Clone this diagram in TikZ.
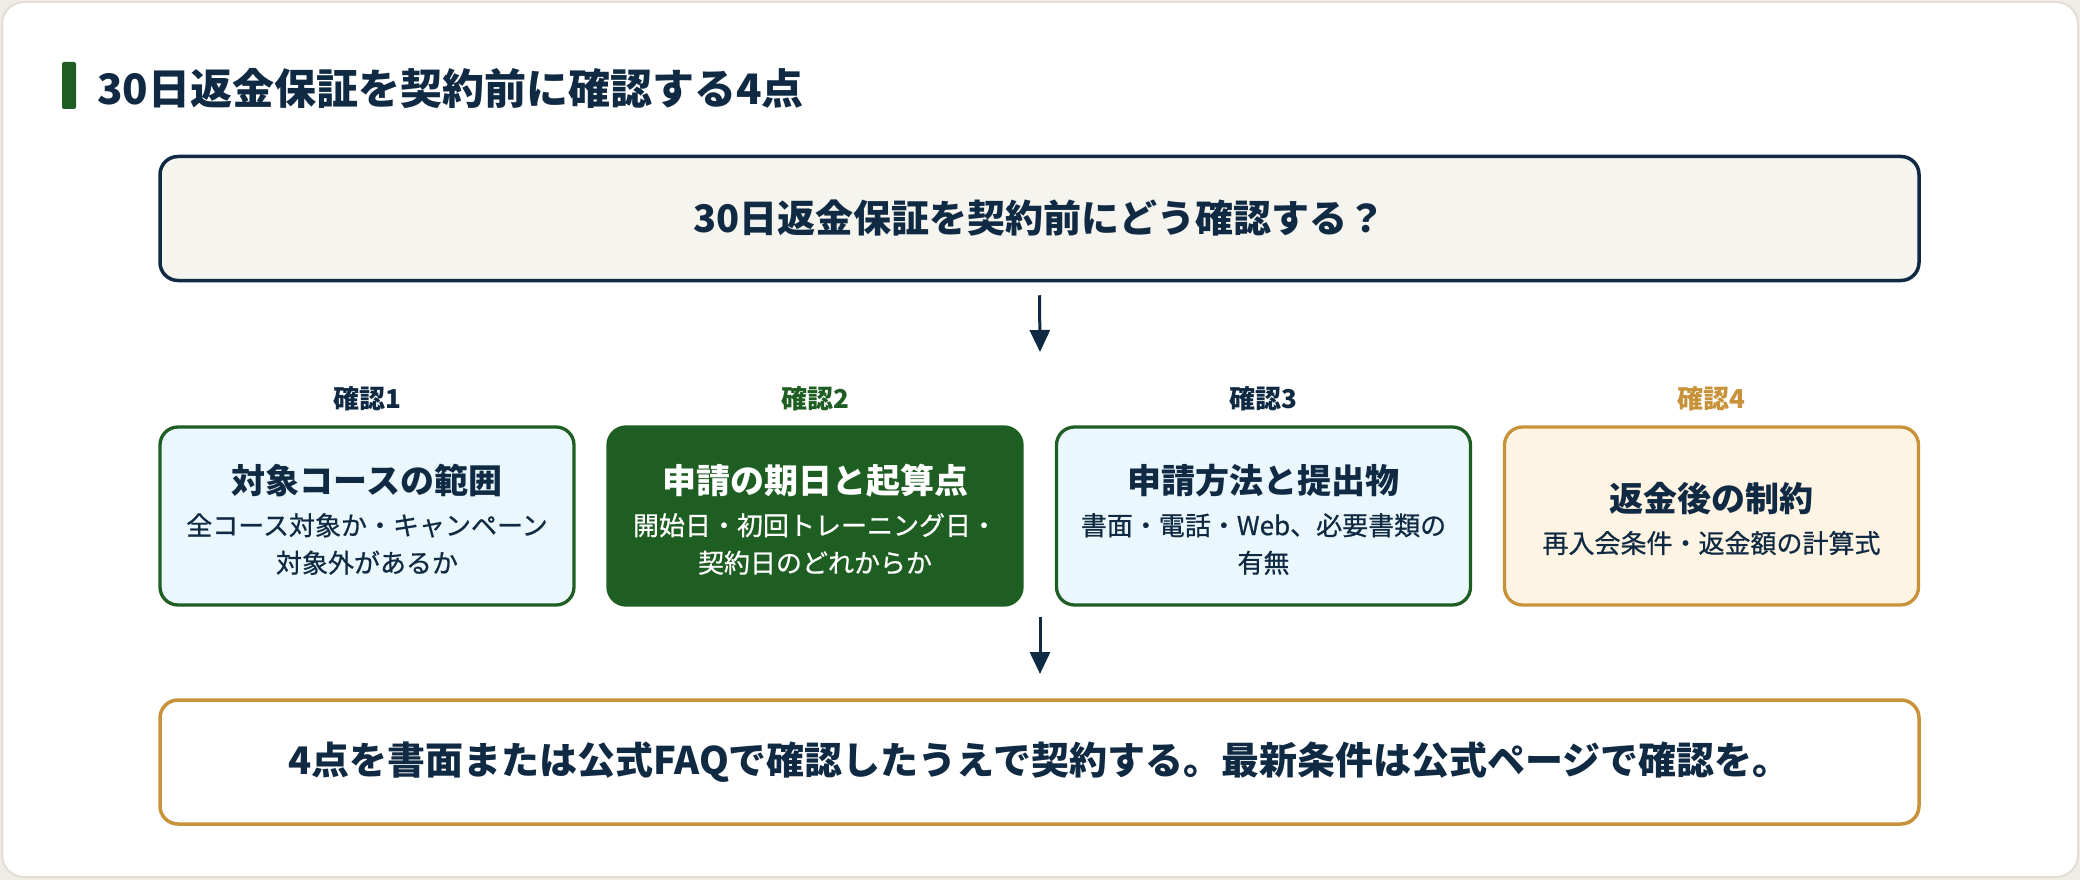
\documentclass[tikz,border=0pt]{standalone}
\usepackage{fontspec}
\setmainfont{Noto Sans CJK JP}
\newfontfamily\jpmed{Noto Sans CJK JP}[FakeBold=0.7]
\usetikzlibrary{arrows.meta,positioning}
\definecolor{navy}{HTML}{102A43}
\definecolor{dgreen}{HTML}{1F5E22}
\definecolor{gold}{HTML}{C8923A}
\definecolor{lblue}{HTML}{EAF7FC}
\definecolor{cream}{HTML}{FDF4E3}
\definecolor{topfill}{HTML}{F5F4EF}
\definecolor{outerbg}{HTML}{EFEDE5}
\definecolor{cardline}{HTML}{E2DFD2}
\newcommand{\fs}[2]{\fontsize{#1}{#2}\selectfont\bfseries}
\newcommand{\fm}[2]{\fontsize{#1}{#2}\selectfont\jpmed}
\tikzset{
  card/.style={rounded corners=18pt, line width=3.3pt, minimum width=414pt, minimum height=178pt, inner sep=0pt},
  wide/.style={rounded corners=18pt, line width=3.5pt, minimum width=1759pt, minimum height=124pt, inner sep=0pt},
  arr/.style={draw=navy, line width=3pt, -{Triangle[length=22pt,width=20pt]}},
  lbl/.style={font=\fs{26}{30}},
  ttl/.style={font=\fs{34}{40}},
  sub/.style={font=\fm{26}{37.5}, align=center},
}
\begin{document}
\begin{tikzpicture}[x=1pt,y=-1pt]
\useasboundingbox (0,0) rectangle (2080,880);
\fill[outerbg] (0,0) rectangle (2080,880);
\draw[cardline, fill=white, line width=2pt, rounded corners=22pt] (2,2) rectangle (2078,877);
\fill[dgreen, rounded corners=2pt] (62,62) rectangle (76,109);
\node[anchor=west, text=navy, font=\fs{42}{48}, inner sep=0pt] (title) at (97,89) {30日返金保証を契約前に確認する4点};
\node[wide, draw=navy, fill=topfill, text=navy, font=\fs{38}{44}] (top) at (1039.5,218.5) {30日返金保証を契約前にどう確認する？};
\coordinate (a1e) at (1040,352);
\draw[arr] ([yshift=-13pt]top.south) -- (a1e);
% labels
\node[lbl, text=navy] (l1) at (367,399) {確認1};
\node[lbl, text=dgreen] (l2) at (815,399) {確認2};
\node[lbl, text=navy] (l3) at (1263.5,399) {確認3};
\node[lbl, text=gold] (l4) at (1711.5,399) {確認4};
% boxes
\node[card, draw=dgreen, fill=lblue] (b1) at (367,516) {};
\node[card, draw=dgreen, fill=dgreen] (b2) at (815,516) {};
\node[card, draw=dgreen, fill=lblue] (b3) at (1263.5,516) {};
\node[card, draw=gold, fill=cream] (b4) at (1711.5,516) {};
\node[ttl, text=navy] (t1) at ([yshift=35pt]b1.center) {対象コースの範囲};
\node[sub, text=navy] (s1) at ([yshift=-28pt]b1.center) {全コース対象か・キャンペーン\\対象外があるか};
\node[ttl, text=white] (t2) at ([yshift=35pt]b2.center) {申請の期日と起算点};
\node[sub, text=white] (s2) at ([yshift=-28pt]b2.center) {開始日・初回トレーニング日・\\契約日のどれからか};
\node[ttl, text=navy] (t3) at ([yshift=35pt]b3.center) {申請方法と提出物};
\node[sub, text=navy] (s3) at ([yshift=-28pt]b3.center) {書面・電話・Web、必要書類の\\有無};
\node[ttl, text=navy] (t4) at ([yshift=17pt]b4.center) {返金後の制約};
\node[sub, text=navy] (s4) at ([yshift=-27pt]b4.center) {再入会条件・返金額の計算式};
% bottom
\coordinate (a2s) at (1040,617);
\coordinate (a2e) at (1040,674);
\draw[arr] (a2s) -- (a2e);
\node[wide, draw=gold, fill=white, text=navy, font=\fs{38}{44}] (bot) at (1039.5,762) {4点を書面または公式FAQで確認したうえで契約する。最新条件は公式ページで確認を。};
\end{tikzpicture}
\end{document}
